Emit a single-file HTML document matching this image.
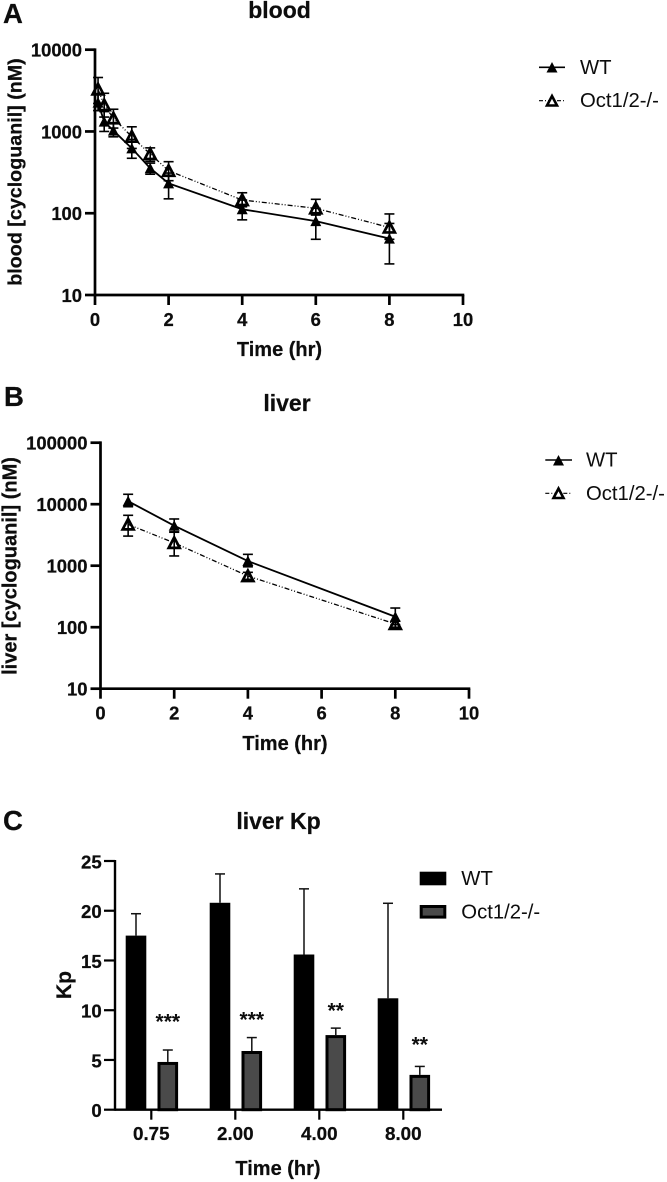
<!DOCTYPE html>
<html lang="en">
<head>
<meta charset="utf-8">
<title>Cycloguanil concentration charts</title>
<style>
html,body{margin:0;padding:0;background:#fff;}
#figure{display:block;width:667px;height:1182px;filter:blur(0.35px);}
text{font-family:"Liberation Sans",Arial,sans-serif;fill:#0d0d0d;}
.b{font-weight:bold;stroke:#0d0d0d;stroke-width:0.25px;}
</style>
</head>
<body>
<svg id="figure" xmlns="http://www.w3.org/2000/svg" width="667" height="1182" viewBox="0 0 667 1182">
  <g>
    <text class="b" x="3" y="23" font-size="27.500">A</text>
    <text class="b" x="4" y="406" font-size="27.500">B</text>
    <text class="b" x="3" y="830" font-size="27.500">C</text>
  </g>
  <text class="b" x="279.500" y="18" font-size="23" text-anchor="middle">blood</text>
  <text class="b" x="287" y="411" font-size="23" text-anchor="middle">liver</text>
  <text class="b" x="278.500" y="829" font-size="23" text-anchor="middle">liver Kp</text>

  <text class="b" x="279.500" y="356" font-size="20" text-anchor="middle">Time (hr)</text>
  <text class="b" x="285" y="750" font-size="20" text-anchor="middle">Time (hr)</text>
  <text class="b" x="278" y="1175" font-size="20" text-anchor="middle">Time (hr)</text>

  <text class="b" font-size="19.700" text-anchor="middle" transform="translate(21.500 172) rotate(-90)">blood [cycloguanil] (nM)</text>
  <text class="b" font-size="20" text-anchor="middle" transform="translate(16.500 566) rotate(-90)">liver [cycloguanil] (nM)</text>
  <text class="b" font-size="21" text-anchor="middle" transform="translate(71 985) rotate(-90)">Kp</text>

  <g id="plot-a"></g>
  <g id="plot-b"></g>
  <g id="plot-c"></g>

  <g>
    <g>
      <line x1="539" y1="67.300" x2="565" y2="67.300" stroke="#000" stroke-width="1.600"/>
      <polygon points="546.500,72.500 557.500,72.500 552,62" fill="#000"/>
      <text x="580" y="74" font-size="20.300">WT</text>
    </g>
    <g>
      <line x1="539" y1="100.700" x2="565" y2="100.700" stroke="#000" stroke-width="1.200" stroke-dasharray="4 2 1 2"/>
      <polygon points="547,105.500 557,105.500 552,96" fill="#fff" stroke="#000" stroke-width="2.600"/>
      <text x="580" y="107" font-size="20.300">Oct1/2-/-</text>
    </g>
  </g>
  <g>
    <g>
      <line x1="545.300" y1="460" x2="572" y2="460" stroke="#000" stroke-width="1.600"/>
      <polygon points="553,465.500 564,465.500 558.500,455" fill="#000"/>
      <text x="586" y="466.500" font-size="20.300">WT</text>
    </g>
    <g>
      <line x1="545.300" y1="493.300" x2="572" y2="493.300" stroke="#000" stroke-width="1.200" stroke-dasharray="4 2 1 2"/>
      <polygon points="553.500,498 563.500,498 558.500,488.500" fill="#fff" stroke="#000" stroke-width="2.600"/>
      <text x="586" y="500" font-size="20.300">Oct1/2-/-</text>
    </g>
  </g>
  <g>
    <g>
      <rect x="419.700" y="871.700" width="26.600" height="13.600" fill="#000"/>
      <text x="461.300" y="885" font-size="20.300">WT</text>
    </g>
    <g>
      <rect x="421.200" y="906.500" width="23.600" height="10.600" fill="#4a4a4a" stroke="#000" stroke-width="3"/>
      <text x="461.300" y="918.300" font-size="20.300">Oct1/2-/-</text>
    </g>
  </g>
</svg>

<script>
// Panel A: blood concentration (nM) over time (hr)
const bloodTime = [0.083, 0.25, 0.5, 1, 1.5, 2, 4, 6, 8];
const bloodWtMean = [2250, 1320, 1025, 622, 355, 232, 112, 80, 49];
const bloodWtUpper = [2900, 1750, 1250, 800, 410, 310, 145, 115, 75];
const bloodWtLower = [1800, 1000, 860, 470, 300, 150, 83, 48, 24];
const bloodKoMean = [3270, 2100, 1450, 863, 530, 331, 145, 115, 67];
const bloodKoUpper = [4570, 2930, 1870, 1140, 630, 427, 178, 148, 98];
const bloodKoLower = [2200, 1500, 1100, 620, 430, 250, 120, 95, 48];
const bloodXTicks = [0, 2, 4, 6, 8, 10];
const bloodYTicks = [10, 100, 1000, 10000];

// Panel B: liver concentration (nM) over time (hr)
const liverTime = [0.75, 2, 4, 8];
const liverWtMean = [11200, 4470, 1190, 148];
const liverWtUpper = [14500, 5750, 1530, 205];
const liverWtLower = [9100, 3550, 960, 110];
const liverKoMean = [4700, 2350, 680, 113];
const liverKoUpper = [6600, 3500, 780, 125];
const liverKoLower = [3030, 1440, 600, 100];
const liverXTicks = [0, 2, 4, 6, 8, 10];
const liverYTicks = [10, 100, 1000, 10000, 100000];

// Panel C: liver Kp by time point
const kpCategories = ['0.75', '2.00', '4.00', '8.00'];
const kpWt = [17.5, 20.8, 15.6, 11.2];
const kpWtUpper = [19.7, 23.7, 22.2, 20.75];
const kpKo = [4.8, 5.9, 7.5, 3.5];
const kpKoUpper = [6.0, 7.25, 8.2, 4.35];
const kpStars = ['***', '***', '**', '**'];
const kpStarLevels = [9.2, 9.4, 10.3, 6.9];
const kpYTicks = [0, 5, 10, 15, 20, 25];

const SVGNS = 'http://www.w3.org/2000/svg';

function mk(parent, tag, attrs, txt) {
  const el = document.createElementNS(SVGNS, tag);
  for (const k in attrs) { el.setAttribute(k, attrs[k]); }
  if (txt !== undefined) { el.textContent = txt; }
  parent.appendChild(el);
  return el;
}

function drawScatterPanel(root, xScale, yScale, xTicks, yTicks, xLeft, xRight, yBottom, yTop, tickLen, series) {
  yTicks.forEach(function (t) {
    const tick = mk(root, 'line', { x1: xLeft - tickLen, x2: xLeft, y1: yScale(t), y2: yScale(t), stroke: '#000', 'stroke-width': 2.7 });
    
    
    const lab = mk(root, 'text', { x: xLeft - 13, y: yScale(t) + 7, 'text-anchor': 'end', 'font-size': 18.4, 'class': 'b' }, String(t));
    
    
  });
  xTicks.forEach(function (t) {
    const tick = mk(root, 'line', { x1: xScale(t), x2: xScale(t), y1: yBottom, y2: yBottom + tickLen, stroke: '#000', 'stroke-width': 2.7 });
    
    
    const lab = mk(root, 'text', { x: xScale(t), y: yBottom + 31, 'text-anchor': 'middle', 'font-size': 18.4, 'class': 'b' }, String(t));
    
    
  });
  const yAxis = mk(root, 'line', { x1: xLeft, x2: xLeft, y1: yTop - 1.3, y2: yBottom + 1.3, stroke: '#000', 'stroke-width': 2.7 });
  
  
  const xAxis = mk(root, 'line', { x1: xLeft, x2: xRight + 1.3, y1: yBottom, y2: yBottom, stroke: '#000', 'stroke-width': 2.7 });
  
  

  series.forEach(function (s) {
    const pts = s.time.map(function (t, i) { return xScale(t).toFixed(2) + ',' + yScale(s.mean[i]).toFixed(2); }).join(' ');
    const line = mk(root, 'polyline', { points: pts, fill: 'none', stroke: '#000', 'stroke-width': s.hollow ? 1.3 : 1.8, 'stroke-dasharray': s.hollow ? '5 2 1 2 1 2' : 'none' });
    
    
  });
  series.forEach(function (s) {
    s.time.forEach(function (t, i) {
      const x = xScale(t);
      const yU = yScale(s.upper[i]);
      const yL = yScale(s.lower[i]);
      const y = yScale(s.mean[i]);
      const stem = mk(root, 'line', { x1: x, x2: x, y1: yU, y2: yL, stroke: '#000', 'stroke-width': 1.6 });
      
      
      const capU = mk(root, 'line', { x1: x - 5, x2: x + 5, y1: yU, y2: yU, stroke: '#000', 'stroke-width': 1.6 });
      
      
      const capL = mk(root, 'line', { x1: x - 5, x2: x + 5, y1: yL, y2: yL, stroke: '#000', 'stroke-width': 1.6 });
      
      
      const tri = [(x - 5.5) + ',' + (y + 5), (x + 5.5) + ',' + (y + 5), x + ',' + (y - 5.5)].join(' ');
      const marker = mk(root, 'polygon', s.hollow
        ? { points: tri, fill: 'none', stroke: '#000', 'stroke-width': 2.7 }
        : { points: tri, fill: '#000' });
      
      
    });
  });
}

// Panel A axes
function xA(v) { return 95 + v * 36.8; }
function yA(v) { return 295 - (Math.log10(v) - 1) * 81.77; }
drawScatterPanel(document.getElementById('plot-a'), xA, yA, bloodXTicks, bloodYTicks, 95, 463, 295, 49.7, 10, [
  { time: bloodTime, mean: bloodWtMean, upper: bloodWtUpper, lower: bloodWtLower, hollow: false },
  { time: bloodTime, mean: bloodKoMean, upper: bloodKoUpper, lower: bloodKoLower, hollow: true }
]);

// Panel B axes
function xB(v) { return 100.5 + v * 36.85; }
function yB(v) { return 688.7 - (Math.log10(v) - 1) * 61.5; }
drawScatterPanel(document.getElementById('plot-b'), xB, yB, liverXTicks, liverYTicks, 100.5, 469, 688.7, 442.7, 10, [
  { time: liverTime, mean: liverWtMean, upper: liverWtUpper, lower: liverWtLower, hollow: false },
  { time: liverTime, mean: liverKoMean, upper: liverKoUpper, lower: liverKoLower, hollow: true }
]);

// Panel C axes
const plotC = document.getElementById('plot-c');
function yC(v) { return 1109.7 - v * 9.948; }
function xC(i) { return 151.3 + i * 84; }

kpCategories.forEach(function (c, i) {
  const cx = xC(i);
  const wtX = cx - 25.6;
  const koX = cx + 6.2;
  const barW = 20.6;

  const wtStem = mk(plotC, 'line', { x1: wtX + barW / 2, x2: wtX + barW / 2, y1: yC(kpWtUpper[i]), y2: yC(kpWt[i]), stroke: '#111', 'stroke-width': 1.5 });
  
  
  const wtCap = mk(plotC, 'line', { x1: wtX + barW / 2 - 5, x2: wtX + barW / 2 + 5, y1: yC(kpWtUpper[i]), y2: yC(kpWtUpper[i]), stroke: '#111', 'stroke-width': 1.5 });
  
  
  const wtBar = mk(plotC, 'rect', { x: wtX, y: yC(kpWt[i]), width: barW, height: yC(0) - yC(kpWt[i]), fill: '#000' });
  
  

  const koStem = mk(plotC, 'line', { x1: koX + barW / 2, x2: koX + barW / 2, y1: yC(kpKoUpper[i]), y2: yC(kpKo[i]), stroke: '#111', 'stroke-width': 1.5 });
  
  
  const koCap = mk(plotC, 'line', { x1: koX + barW / 2 - 5, x2: koX + barW / 2 + 5, y1: yC(kpKoUpper[i]), y2: yC(kpKoUpper[i]), stroke: '#111', 'stroke-width': 1.5 });
  
  
  const koBar = mk(plotC, 'rect', { x: koX + 1.5, y: yC(kpKo[i]) + 1.5, width: barW - 3, height: yC(0) - yC(kpKo[i]) - 1.5, fill: '#4a4a4a', stroke: '#000', 'stroke-width': 3 });
  
  

  const star = mk(plotC, 'text', { x: koX + barW / 2, y: yC(kpStarLevels[i]) + 10.5, 'text-anchor': 'middle', 'font-size': 21, 'font-weight': 'bold' }, kpStars[i]);
  
  

  const tick = mk(plotC, 'line', { x1: cx, x2: cx, y1: yC(0), y2: yC(0) + 10, stroke: '#000', 'stroke-width': 2.2 });
  
  
  const lab = mk(plotC, 'text', { x: cx, y: 1140, 'text-anchor': 'middle', 'font-size': 18.8, 'class': 'b' }, c);
  
  
});

kpYTicks.forEach(function (t) {
  const tick = mk(plotC, 'line', { x1: 104, x2: 115, y1: yC(t), y2: yC(t), stroke: '#000', 'stroke-width': 2.2 });
  
  
  const lab = mk(plotC, 'text', { x: 101.7, y: yC(t) + 7.5, 'text-anchor': 'end', 'font-size': 18.6, 'class': 'b' }, String(t));
  
  
});

const kpYAxis = mk(plotC, 'line', { x1: 115, x2: 115, y1: yC(25) - 1, y2: yC(0) + 1, stroke: '#000', 'stroke-width': 2.4 });


const kpXAxis = mk(plotC, 'line', { x1: 115, x2: 442, y1: yC(0), y2: yC(0), stroke: '#000', 'stroke-width': 2.4 });


</script>
</body>
</html>
